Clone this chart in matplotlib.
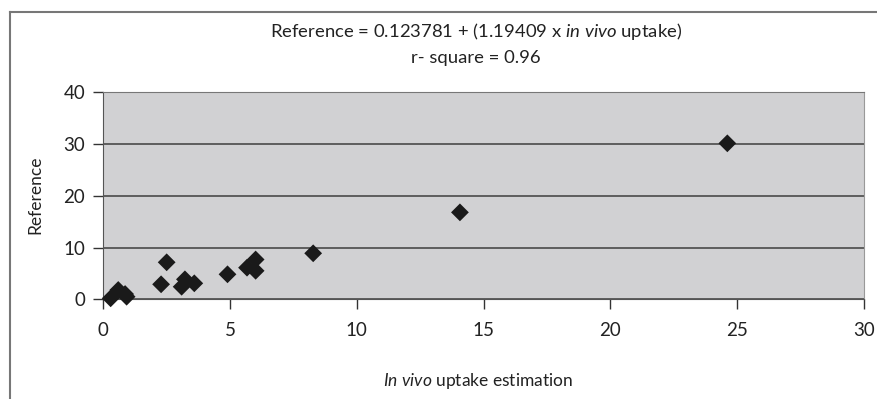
import matplotlib.pyplot as plt
from matplotlib.lines import Line2D

# valores
in_vivo = [0.29, 0.59, 0.86, 0.92, 2.28, 2.50, 3.09, 3.22, 3.59, 4.90,
           5.67, 6.01, 6.01, 8.28, 14.07, 24.62]
referencia = [0.19, 1.80, 1.02, 0.50, 2.90, 7.15, 2.43, 3.86, 3.09, 4.83,
              6.11, 7.69, 5.51, 8.89, 16.8, 30.14]

x_ticks = [0, 5, 10, 15, 20, 25, 30]
y_ticks = [0, 10, 20, 30, 40]

plt.rcParams['font.family'] = ['Lato', 'DejaVu Sans']
plt.rcParams['mathtext.fontset'] = 'custom'
plt.rcParams['mathtext.rm'] = 'Lato'
plt.rcParams['mathtext.it'] = 'Lato:italic'

fig = plt.figure(figsize=(8.77, 3.99), dpi=100)
W, H = 877, 399

ax = fig.add_axes([103.3 / W, 1 - 299.3 / H, (863.7 - 103.3) / W, (299.3 - 92.3) / H])
ax.set_facecolor('#d1d1d3')
ax.set_xlim(0, 30)
ax.set_ylim(0, 40)
ax.set_xticks(x_ticks)
ax.set_yticks(y_ticks)
ax.yaxis.grid(True, color='#4a4a4a', linewidth=1.2)
ax.set_axisbelow(True)
ax.tick_params(direction='out', length=7, width=1, colors='#333333',
               labelsize=13.5, labelcolor='#222222', pad=6)
ax.tick_params(axis='x', pad=9)
for side in ['left', 'bottom']:
    ax.spines[side].set_color('#555555')
ax.spines['top'].set_color('#777777')
ax.spines['right'].set_color('#999999')

ax.scatter(in_vivo, referencia, marker='D', s=82, color='#1a1a1a',
           edgecolors='none', zorder=3, clip_on=False)

# ecuacion de la recta
fig.text(476 / W, 1 - 32 / H,
         r'Reference = 0.123781 + (1.19409 x $\it{in\ vivo}$ uptake)',
         ha='center', va='center', fontsize=13.3, color='#222222')
fig.text(476 / W, 1 - 58 / H, 'r- square = 0.96',
         ha='center', va='center', fontsize=13.3, color='#222222')

fig.text(35 / W, 1 - 195 / H, 'Reference', rotation=90,
         ha='center', va='center', fontsize=12.5, color='#222222')
fig.text(478 / W, 1 - 381 / H, r'$\it{In\ vivo}$ uptake estimation',
         ha='center', va='center', fontsize=12.5, color='#222222')

# marco exterior
fig.add_artist(Line2D([10 / W, 10 / W], [0, 1 - 12 / H], transform=fig.transFigure,
                      color='#777777', linewidth=1.5))
fig.add_artist(Line2D([10 / W, 1], [1 - 12 / H, 1 - 12 / H], transform=fig.transFigure,
                      color='#777777', linewidth=1.5))

fig.savefig('out.png', dpi=100)
